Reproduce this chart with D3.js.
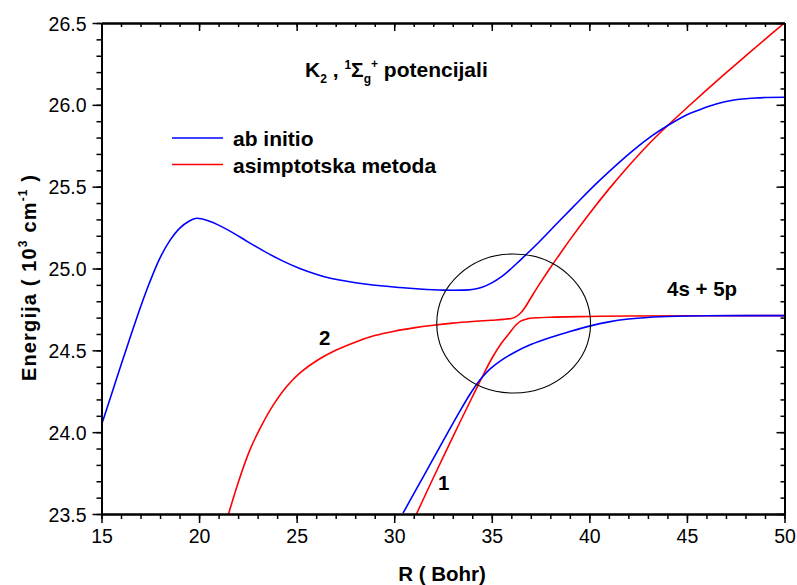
<!DOCTYPE html>
<html><head><meta charset="utf-8">
<script src="https://cdn.jsdelivr.net/npm/d3@7"></script>
<style>
body{margin:0;background:#fff;}
svg{display:block;font-family:Arial,"Liberation Sans",sans-serif;}
</style></head>
<body><svg id="c" width="797" height="585"></svg>
<script>
// ---- data ----
const abInitioUpperR = [15,16,16.5,17,17.5,18,18.5,19,19.5,19.87,20.5,21.0,21.74,22.5,23.46,24.3,25.16,26.0,26.86,28.5,30.28,31.3,32.5,33.5,34.0,34.5,35.0,35.5,36.0,36.45,37.45,38.3,39.16,40.5,42.23,43.2,44.1,45.0,45.64,46.5,47.34,48.5,50];
const abInitioUpperE = [24.044,24.41,24.59,24.765,24.925,25.065,25.17,25.245,25.29,25.307,25.29,25.265,25.218,25.163,25.097,25.045,25.0,24.965,24.937,24.905,24.884,24.875,24.868,24.868,24.872,24.885,24.912,24.95,25.0,25.05,25.165,25.27,25.375,25.535,25.72,25.81,25.88,25.94,25.97,26.005,26.028,26.042,26.046];
const abInitioLowerR = [30.45,31.5,32.5,33.3,33.9,34.4,34.9,35.5,36.2,37.0,38.0,39.0,40.0,41.0,42.0,43.0,44.5,46,50];
const abInitioLowerE = [23.505,23.73,23.945,24.115,24.235,24.32,24.385,24.44,24.49,24.535,24.578,24.615,24.648,24.674,24.691,24.701,24.708,24.711,24.712];
const asym2R = [21.51,22.0,22.6,23.2,23.8,24.5,25.2,26.0,27.0,28.0,29.0,30.0,31.0,32.0,33.0,34.0,35.0,35.6,36.0,36.2,36.45,36.7,37.0,37.5,38.0,38.5,39,40,41,42,43,44,45,46,47,48,49,50];
const asym2E = [23.5,23.69,23.89,24.04,24.165,24.28,24.365,24.435,24.5,24.55,24.59,24.617,24.637,24.653,24.666,24.676,24.684,24.689,24.695,24.703,24.725,24.762,24.82,24.915,25.005,25.09,25.175,25.335,25.485,25.625,25.755,25.872,25.982,26.09,26.195,26.298,26.4,26.5];
const asym1R = [31.14,32,33,34,34.5,35,35.5,35.9,36.2,36.5,36.8,37.3,38.2,40,42,50];
const asym1E = [23.5,23.72,23.97,24.215,24.335,24.45,24.545,24.605,24.65,24.68,24.692,24.699,24.703,24.707,24.71,24.712];
const xTicks = [15,20,25,30,35,40,45,50];
const yTicks = [23.5,24.0,24.5,25.0,25.5,26.0,26.5];
const legendLabels = ["ab initio","asimptotska metoda"];

// ---- layout ----
const svg = d3.select("#c");
const L=101.5, R=784.5, T=23, B=514;
const x = d3.scaleLinear().domain([15,50]).range([L,R]);
const y = d3.scaleLinear().domain([23.5,26.5]).range([B,T]);
const blue="#0000ff", red="#ff0000";
const FF="Arial, 'Liberation Sans', sans-serif";

svg.append("clipPath").attr("id","clip").append("rect")
  .attr("x",L).attr("y",T).attr("width",R-L).attr("height",B-T);

const line = d3.line().x(d=>x(d[0])).y(d=>y(d[1])).curve(d3.curveCatmullRom.alpha(0.5));
const zip=(a,b)=>a.map((v,i)=>[v,b[i]]);
const g = svg.append("g").attr("clip-path","url(#clip)");
[[asym2R,asym2E,red],[asym1R,asym1E,red],[abInitioUpperR,abInitioUpperE,blue],[abInitioLowerR,abInitioLowerE,blue]]
 .forEach(s=>g.append("path").attr("d",line(zip(s[0],s[1]))).attr("fill","none").attr("stroke",s[2]).attr("stroke-width",1.6));

// ellipse annotation
const ec=[36.12,24.664], er=[3.94,0.425];
svg.append("ellipse").attr("cx",x(ec[0])).attr("cy",y(ec[1]))
  .attr("rx",x(ec[0]+er[0])-x(ec[0])).attr("ry",y(ec[1]-er[1])-y(ec[1]))
  .attr("fill","none").attr("stroke","#000").attr("stroke-width",1.1);

// axes
const minorX = d3.range(15,50.01,1);
const minorY = d3.range(23.5,26.51,0.1);
const fmt = d3.format(".1f");
const ax = svg.append("g").attr("transform",`translate(0,${B})`)
  .call(d3.axisBottom(x).tickValues(xTicks).tickSize(9).tickSizeOuter(0).tickPadding(4));
const ax2 = svg.append("g").attr("transform",`translate(0,${B})`)
  .call(d3.axisBottom(x).tickValues(minorX).tickSize(5).tickFormat("").tickSizeOuter(0));
const ay = svg.append("g").attr("transform",`translate(${L},0)`)
  .call(d3.axisLeft(y).tickValues(yTicks).tickFormat(fmt).tickSize(9).tickSizeOuter(0).tickPadding(6));
const ay2 = svg.append("g").attr("transform",`translate(${L},0)`)
  .call(d3.axisLeft(y).tickValues(minorY).tickSize(5).tickFormat("").tickSizeOuter(0));
const at = svg.append("g").attr("transform",`translate(0,${T})`)
  .call(d3.axisBottom(x).tickValues(xTicks).tickSize(8).tickFormat("").tickSizeOuter(0));
const at2 = svg.append("g").attr("transform",`translate(0,${T})`)
  .call(d3.axisBottom(x).tickValues(minorX).tickSize(4).tickFormat("").tickSizeOuter(0));
const ar = svg.append("g").attr("transform",`translate(${R},0)`)
  .call(d3.axisLeft(y).tickValues(yTicks).tickSize(8).tickFormat("").tickSizeOuter(0));
const ar2 = svg.append("g").attr("transform",`translate(${R},0)`)
  .call(d3.axisLeft(y).tickValues(minorY).tickSize(4).tickFormat("").tickSizeOuter(0));
[ax,ax2,ay,ay2,at,at2,ar,ar2].forEach(a=>{
  a.selectAll("path.domain").attr("stroke","#000").attr("stroke-width",2);
  a.selectAll(".tick line").attr("stroke","#000").attr("stroke-width",1.5);
  a.selectAll("text").attr("font-family",FF).attr("font-size",19.5).attr("fill","#000");
});
ax.selectAll("text").attr("dy","0.8em");
ay.selectAll("text").attr("dy","0.36em");

// axis titles
svg.append("text").attr("x",442).attr("y",581).attr("text-anchor","middle")
  .attr("font-weight","bold").attr("font-size",20.5).text("R ( Bohr)");
const yl = svg.append("text").attr("transform",`translate(36,381) rotate(-90)`)
  .attr("font-weight","bold").attr("font-size",20)
  .attr("textLength",206).attr("lengthAdjust","spacing");
yl.append("tspan").text("Energija ( 10");
yl.append("tspan").attr("font-size",12).attr("dy",-9).text("3");
yl.append("tspan").attr("dy",9).text(" cm");
yl.append("tspan").attr("font-size",12).attr("dy",-9).text("-1");
yl.append("tspan").attr("dy",9).text(" )");

// title
const tt = svg.append("text").attr("x",305).attr("y",77).attr("font-weight","bold").attr("font-size",21);
tt.append("tspan").text("K");
tt.append("tspan").attr("font-size",12).attr("dy",6).text("2");
tt.append("tspan").attr("dy",-6).text(" , ");
tt.append("tspan").attr("font-size",12).attr("dy",-8).text("1");
tt.append("tspan").attr("dy",8).text("Σ");
tt.append("tspan").attr("font-size",12).attr("dy",6).text("g");
tt.append("tspan").attr("font-size",12).attr("dy",-15).text("+");
tt.append("tspan").attr("dy",9).text(" potencijali");

// legend
const lg = [[blue,138,146],[red,164.5,173]];
lg.forEach((d,i)=>{
  svg.append("line").attr("x1",172).attr("x2",223).attr("y1",d[1]).attr("y2",d[1]).attr("stroke",d[0]).attr("stroke-width",1.6);
  svg.append("text").attr("x",233).attr("y",d[2]).attr("font-weight","bold").attr("font-size",21).text(legendLabels[i]);
});

// annotations
svg.append("text").attr("x",667).attr("y",296).attr("font-weight","bold").attr("font-size",20.5).text("4s + 5p");
svg.append("text").attr("x",319).attr("y",345).attr("font-weight","bold").attr("font-size",20.5).text("2");
svg.append("text").attr("x",438).attr("y",490).attr("font-weight","bold").attr("font-size",20.5).text("1");
</script></body></html>
